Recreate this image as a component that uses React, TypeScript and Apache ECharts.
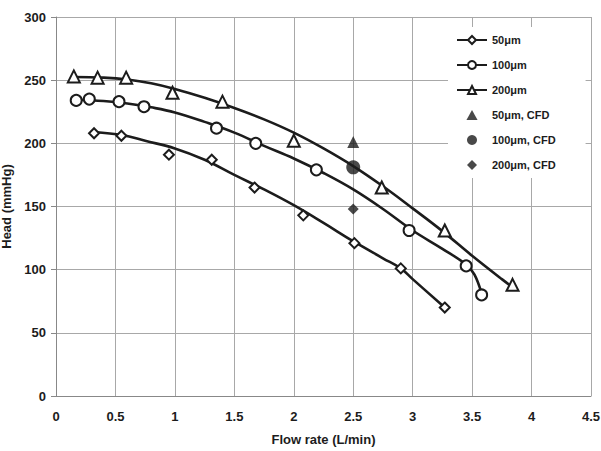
import React, { useEffect, useRef } from "react";
import * as echarts from "echarts";

// Measured markers (Flow rate L/min, Head mmHg)
const pts50: number[][] = [[0.32, 208], [0.55, 206], [0.95, 191], [1.31, 187], [1.67, 165], [2.08, 143], [2.51, 121], [2.9, 101], [3.27, 70]];
const pts100: number[][] = [[0.17, 234], [0.28, 235], [0.53, 233], [0.74, 229], [1.35, 212], [1.68, 200], [2.19, 179], [2.97, 131], [3.45, 103], [3.58, 80]];
const pts200: number[][] = [[0.15, 253], [0.35, 252], [0.59, 252], [0.98, 240], [1.4, 233], [2.0, 202], [2.74, 165], [3.27, 131], [3.84, 88]];

// Trend curves
const fit50: number[][] = [[0.32, 209], [0.56, 206.5], [0.75, 202], [1.0, 196], [1.25, 187], [1.5, 175], [1.75, 163.5], [2.0, 151], [2.25, 137], [2.5, 122.5], [2.75, 109], [2.9, 101], [3.0, 92.5], [3.27, 70]];
const fit100: number[][] = [[0.17, 234.5], [0.4, 233.5], [0.6, 231.5], [0.8, 228.5], [1.0, 224.5], [1.25, 217], [1.5, 208.5], [1.75, 198], [2.0, 188], [2.25, 176.5], [2.5, 163.5], [2.75, 148], [3.0, 131], [3.25, 116.5], [3.45, 104], [3.52, 96], [3.58, 81]];
const fit200: number[][] = [[0.15, 252.5], [0.4, 252], [0.6, 250.5], [0.8, 247.5], [1.0, 243], [1.25, 236], [1.5, 228], [1.75, 219], [2.0, 208.5], [2.25, 196], [2.5, 182], [2.75, 166], [3.0, 148.5], [3.25, 130.5], [3.5, 111], [3.75, 92.5], [3.85, 85.5]];

// CFD points
const cfd50: number[][] = [[2.5, 201]];
const cfd100: number[][] = [[2.5, 181]];
const cfd200: number[][] = [[2.5, 148]];

const legendNames = ["50μm", "100μm", "200μm", "50μm, CFD", "100μm, CFD", "200μm, CFD"];

const INK = "#1c1c1c";
const GRID = "#a8a8a8";
const FONT = "'Liberation Sans', Arial, sans-serif";

const TRI_ICON = "path://M5,0L10,9L0,9Z";
const DIA_ICON = "path://M5,0L10,5L5,10L0,5Z";
const CIR_ICON = "circle";

export default function App() {
  const ref = useRef<HTMLDivElement>(null);
  useEffect(() => {
    if (!ref.current) return;
    const chart = echarts.init(ref.current, undefined, { renderer: "svg" });
    const fitSeries = (name: string, data: number[][]) => ({
      name,
      type: "line",
      data,
      smooth: 0.4,
      showSymbol: false,
      symbol: "none",
      lineStyle: { color: INK, width: 2.6 },
      z: 2,
      silent: true,
    });
    const markSeries = (name: string, data: number[][], symbol: string, size: number) => ({
      name,
      type: "line",
      data,
      symbol,
      symbolSize: size,
      showSymbol: true,
      lineStyle: { width: 0, opacity: 0, color: INK },
      itemStyle: { color: "#ffffff", borderColor: INK, borderWidth: 2 },
      z: 4,
    });
    const cfdSeries = (name: string, data: number[][], symbol: string, size: number) => ({
      name,
      type: "scatter",
      data,
      symbol,
      symbolSize: size,
      itemStyle: { color: INK },
      z: 5,
    });
    const cfdIcons = [TRI_ICON, CIR_ICON, DIA_ICON];
    chart.setOption({
      animation: false,
      backgroundColor: "#ffffff",
      textStyle: { fontFamily: FONT },
      grid: { left: 56, top: 17, width: 535, height: 379, containLabel: false, outerBoundsMode: "none" },
      legend: {
        data: legendNames.map((n, i) => (i < 3 ? { name: n } : { name: n, icon: cfdIcons[i - 3] })),
        orient: "vertical",
        left: 448,
        top: 27,
        backgroundColor: "#ffffff",
        padding: [6, 30, 6, 8],
        itemWidth: 30,
        itemHeight: 10,
        itemGap: 11,
        symbolKeepAspect: true,
        lineStyle: { width: 2, opacity: 1, color: INK },
        textStyle: { fontFamily: FONT, fontWeight: "bold", fontSize: 11, color: INK, lineHeight: 14 },
      },
      xAxis: {
        type: "value",
        min: 0,
        max: 4.5,
        interval: 0.5,
        name: "Flow rate (L/min)",
        nameLocation: "middle",
        nameGap: 37,
        nameTextStyle: { fontFamily: FONT, fontWeight: "bold", fontSize: 13, color: INK },
        axisLine: { show: true, lineStyle: { color: "#888888", width: 1 } },
        axisTick: { show: false },
        axisLabel: { margin: 14, fontFamily: FONT, fontWeight: "bold", fontSize: 13, color: INK },
        splitLine: { show: true, lineStyle: { color: GRID, width: 1 } },
      },
      yAxis: {
        type: "value",
        min: 0,
        max: 300,
        interval: 50,
        name: "Head (mmHg)",
        nameLocation: "middle",
        nameGap: 42,
        nameTextStyle: { fontFamily: FONT, fontWeight: "bold", fontSize: 13, color: INK },
        axisLine: { show: true, lineStyle: { color: "#888888", width: 1 } },
        axisTick: { show: true, inside: false, length: 5, lineStyle: { color: "#888888" } },
        axisLabel: { margin: 10, fontFamily: FONT, fontWeight: "bold", fontSize: 13, color: INK },
        splitLine: { show: true, lineStyle: { color: GRID, width: 1 } },
      },
      series: [
        fitSeries("fit50", fit50),
        fitSeries("fit100", fit100),
        fitSeries("fit200", fit200),
        markSeries("50μm", pts50, "diamond", 10),
        markSeries("100μm", pts100, "circle", 11),
        markSeries("200μm", pts200, "triangle", 12),
        cfdSeries("50μm, CFD", cfd50, "triangle", 12),
        cfdSeries("100μm, CFD", cfd100, "circle", 14),
        cfdSeries("200μm, CFD", cfd200, "diamond", 11),
      ],
    });
    return () => chart.dispose();
  }, []);
  return <div ref={ref} style={{ position: "fixed", left: 0, top: 0, width: 601, height: 451 }} />;
}
